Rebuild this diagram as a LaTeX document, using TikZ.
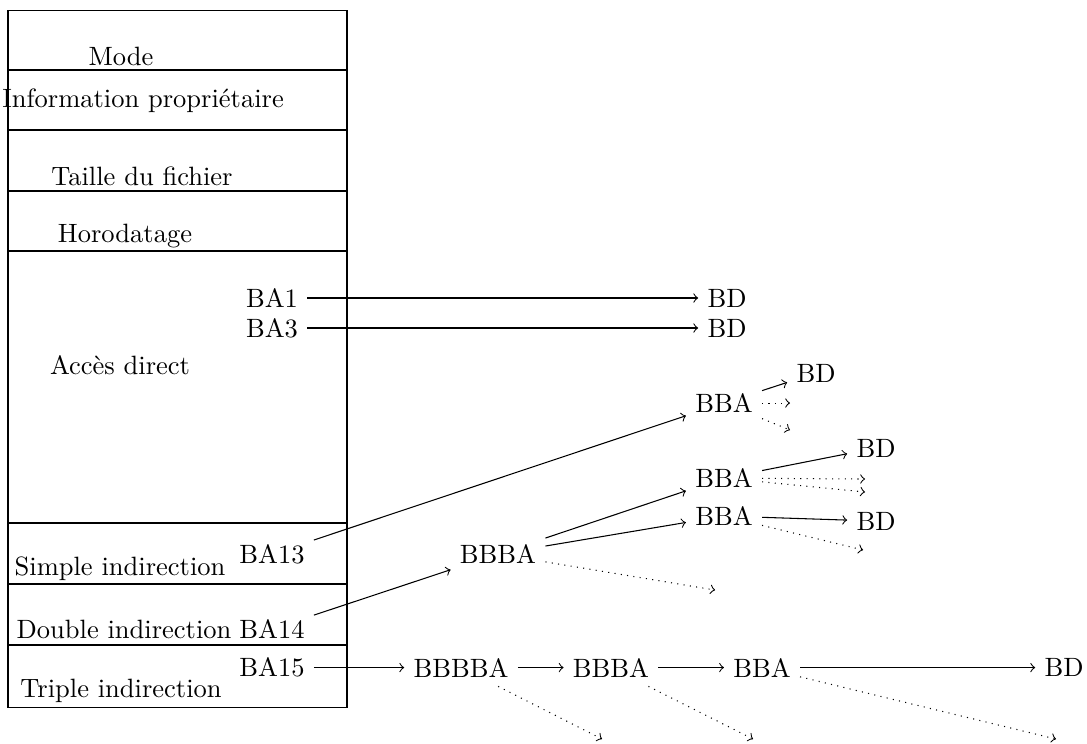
\documentclass[tikz,border=0pt]{standalone}
\usepackage{tikz}
\usetikzlibrary{positioning}
\tikzstyle{champ} = [anchor=base]
\tikzstyle{bloc} = [inner sep=3.33pt]
\tikzstyle{line} = [->]
\tikzstyle{suite} = [dotted, ->]

\begin{document}
\begin{tikzpicture}
                  \useasboundingbox (0,0) rectangle (14.416,-9.854);
                  % i-noeud
                  \draw (0.106,-0.133) rectangle (4.602,-9.377);
                  \foreach \y in {-0.928,-1.724,-2.533,-3.329,-6.936,-7.745,-8.554}
                      \draw (0.106,\y) -- (4.602,\y);

                  \node (mode) [champ] at (1.605,-0.862) {Mode};
                  \node (proprio) [champ] at (1.897,-1.432) {Information propriétaire};
                  \node (taille) [champ] at (1.883,-2.454) {Taille du fichier};
                  \node (horo) [champ] at (1.658,-3.210) {Horodatage};
                  \node (direct) [champ] at (1.592,-4.973) {Accès direct};
                  \node (simple) [champ] at (1.592,-7.626) {Simple indirection};
                  \node (double) [champ] at (1.645,-8.462) {Double indirection};
                  \node (triple) [champ] at (1.605,-9.244) {Triple indirection};

                  % adresses de blocs
                  \node (ba1) [bloc] at (3.607,-3.952) {BA1};
                  \node (ba3) [bloc] at (3.607,-4.350) {BA3};
                  \node (ba13) [bloc] at (3.607,-7.347) {BA13};
                  \node (ba14) [bloc] at (3.607,-8.342) {BA14};
                  \node (ba15) [bloc] at (3.607,-8.853) {BA15};

                  % acces direct
                  \node (bd1) [bloc] at (9.642,-3.952) {BD};
                  \node (bd3) [bloc] at (9.642,-4.350) {BD};

                  % simple indirection
                  \node (bba-s) [bloc] at (9.602,-5.345) {BBA};
                  \node (bd-s) [bloc] at (10.822,-4.947) {BD};
                  \coordinate (s-1) at (10.477,-5.345);
                  \coordinate (s-2) at (10.477,-5.703);

                  % double indirection
                  \node (bbba-d) [bloc] at (6.605,-7.347) {BBBA};
                  \node (bba-d1) [bloc] at (9.602,-6.340) {BBA};
                  \node (bba-d2) [bloc] at (9.602,-6.844) {BBA};
                  \node (bd-d1) [bloc] at (11.618,-5.942) {BD};
                  \node (bd-d2) [bloc] at (11.618,-6.910) {BD};
                  \coordinate (d-0) at (9.483,-7.825);
                  \coordinate (d-1) at (11.472,-6.353);
                  \coordinate (d-2) at (11.472,-6.525);
                  \coordinate (d-3) at (11.446,-7.294);

                  % triple indirection
                  \node (bbbba-t) [bloc] at (6.114,-8.853) {BBBBA};
                  \node (bbba-t) [bloc] at (8.103,-8.853) {BBBA};
                  \node (bba-t) [bloc] at (10.106,-8.853) {BBA};
                  \node (bd-t) [bloc] at (14.111,-8.853) {BD};
                  \coordinate (t-1) at (7.984,-9.801);
                  \coordinate (t-2) at (9.987,-9.801);
                  \coordinate (t-3) at (14.005,-9.801);

                  \draw [line] (ba1) -- (bd1);
                  \draw [line] (ba3) -- (bd3);
                  \draw [line] (ba13) -- (bba-s);
                  \draw [line] (bba-s) -- (bd-s);
                  \draw [suite] (bba-s) -- (s-1);
                  \draw [suite] (bba-s) -- (s-2);
                  \draw [line] (ba14) -- (bbba-d);
                  \draw [line] (bbba-d) -- (bba-d1);
                  \draw [line] (bbba-d) -- (bba-d2);
                  \draw [suite] (bbba-d) -- (d-0);
                  \draw [line] (bba-d1) -- (bd-d1);
                  \draw [suite] (bba-d1) -- (d-1);
                  \draw [suite] (bba-d1) -- (d-2);
                  \draw [line] (bba-d2) -- (bd-d2);
                  \draw [suite] (bba-d2) -- (d-3);
                  \draw [line] (ba15) -- (bbbba-t);
                  \draw [line] (bbbba-t) -- (bbba-t);
                  \draw [line] (bbba-t) -- (bba-t);
                  \draw [line] (bba-t) -- (bd-t);
                  \draw [suite] (bbbba-t) -- (t-1);
                  \draw [suite] (bbba-t) -- (t-2);
                  \draw [suite] (bba-t) -- (t-3);
              \end{tikzpicture}
\end{document}
